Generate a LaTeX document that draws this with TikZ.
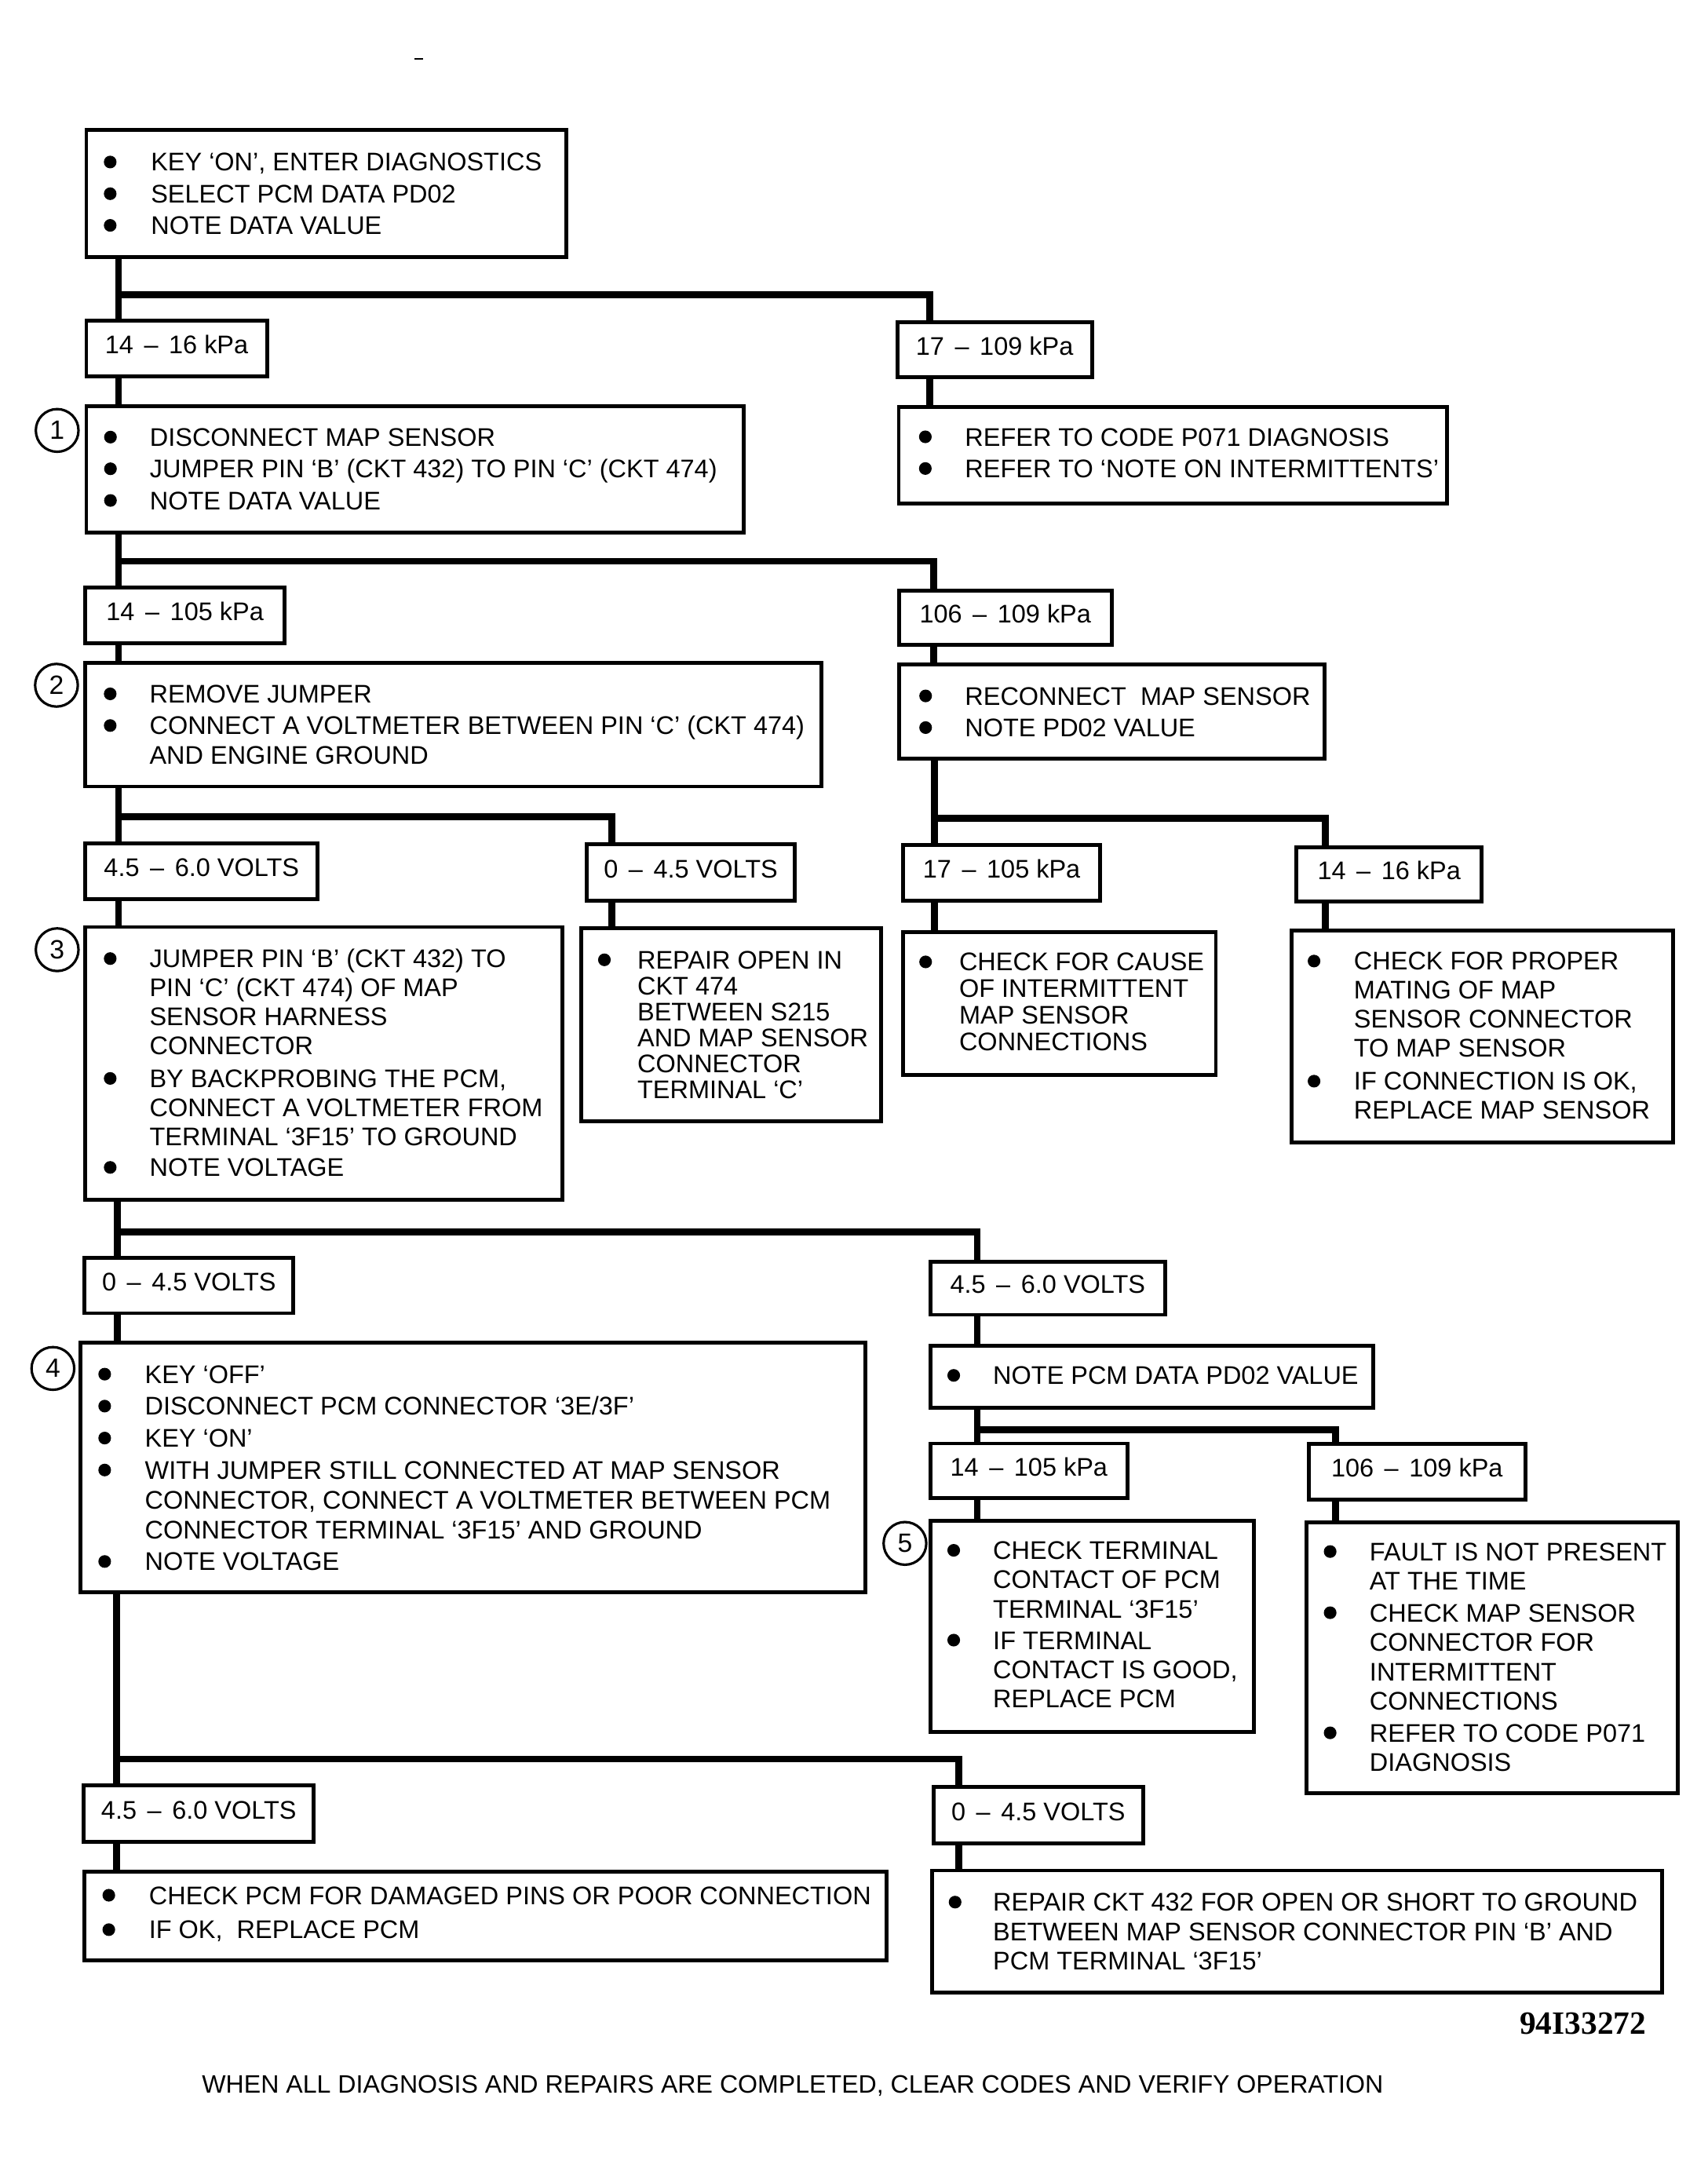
\documentclass[tikz,border=0pt]{standalone}
\usepackage{fontspec}
\setmainfont{Liberation Sans}
\newfontfamily\codefont{Liberation Serif}
\usetikzlibrary{fit}
\newlength\bw
\newcommand\bul{\raisebox{0.98pt}{\tikz\fill (0,0) circle[radius=2.3pt];}}
\newcommand\bi{\makebox[\bw][l]{\bul}}
\newcommand\bsep{\\[0.8pt]}
\newcommand\tlist[3]{{\setlength\bw{#1}\fontsize{9.25pt}{#2}\selectfont\begin{tabular}[t]{@{}l@{}l@{}}#3\end{tabular}}}
\newcommand\lblfont{\fontsize{9.25pt}{10.7pt}\selectfont}
\newcommand\lt[1]{\raisebox{-3.9pt}{#1}}
\newcommand\dd{\hspace{1.3pt} – \hspace{1.3pt}}
\tikzset{
 bx/.style={draw, line width=1.4pt, inner sep=0pt, outer sep=0pt},
 lbl/.style={draw, line width=1.4pt, inner sep=0pt, outer sep=0pt, font=\lblfont},
 txt/.style={anchor=base west, inner sep=0pt, outer sep=0pt},
 conn/.style={line width=2.5pt, line join=miter},
 num/.style={draw, circle, line width=0.9pt, minimum size=15.5pt, inner sep=0pt, font=\fontsize{9.6pt}{10.7pt}\selectfont},
}
\begin{document}
\begin{tikzpicture}[x=0.5pt,y=-0.5pt]
\useasboundingbox (0,0) rectangle (1240,1566);
\draw[line width=0.6pt] (301,43) -- (307,43);
% boxes and range labels
\node[bx, fit={(62.7,94.5)(411,186.5)}] (A) {};
\node[lbl, fit={(62.7,233)(193.8,273.4)}] (L1) {\lt{14\dd16 kPa}};
\node[lbl, fit={(651.5,234)(792.7,274)}] (R1) {\lt{17\dd109 kPa}};
\node[bx, fit={(62.7,295)(540,386.5)}] (B1) {};
\node[bx, fit={(652.5,295.5)(1050.5,365.5)}] (BR1) {};
\node[lbl, fit={(62,426.3)(206.6,466.8)}] (L2) {\lt{14\dd105 kPa}};
\node[lbl, fit={(652.7,428.7)(807,468.3)}] (R2) {\lt{106\dd109 kPa}};
\node[bx, fit={(62,481)(596.5,571)}] (B2) {};
\node[bx, fit={(652.7,482.3)(961.6,550.9)}] (BR2) {};
\node[lbl, fit={(62,612.5)(230.6,652.8)}] (L3) {\lt{4.5\dd6.0 VOLTS}};
\node[lbl, fit={(426,613)(577,653.7)}] (R3) {\lt{0\dd4.5 VOLTS}};
\node[lbl, fit={(655.6,613.4)(798.8,653.7)}] (L3R) {\lt{17\dd105 kPa}};
\node[lbl, fit={(941.2,615)(1075.8,654.3)}] (R3R) {\lt{14\dd16 kPa}};
\node[bx, fit={(62,673)(408.5,871)}] (B3) {};
\node[bx, fit={(422,674)(639.5,814)}] (BR3) {};
\node[bx, fit={(655.6,676.6)(882.7,780.3)}] (B3R) {};
\node[bx, fit={(937.5,675.8)(1214.5,829.5)}] (BR3R) {};
\node[lbl, fit={(61.4,913)(213,953.4)}] (L4) {\lt{0\dd4.5 VOLTS}};
\node[lbl, fit={(675.5,916)(845.8,954.5)}] (R4) {\lt{4.5\dd6.0 VOLTS}};
\node[bx, fit={(58.5,975)(628.5,1156)}] (B4) {};
\node[bx, fit={(675.5,977)(997,1022)}] (BR4) {};
\node[lbl, fit={(675.5,1048)(818.5,1087.8)}] (L5) {\lt{14\dd105 kPa}};
\node[lbl, fit={(950,1048.5)(1107.5,1088.5)}] (R5) {\lt{106\dd109 kPa}};
\node[bx, fit={(675.5,1104)(910.5,1257.5)}] (B5) {};
\node[bx, fit={(948.5,1105)(1218,1302)}] (BR5) {};
\node[lbl, fit={(60.9,1296)(227.7,1337.2)}] (L6) {\lt{4.5\dd6.0 VOLTS}};
\node[lbl, fit={(677.6,1297.5)(830,1338.5)}] (R6) {\lt{0\dd4.5 VOLTS}};
\node[bx, fit={(61.5,1359)(643.5,1423)}] (B6) {};
\node[bx, fit={(676.5,1358)(1206.5,1446.5)}] (BR6) {};
% step numbers
\node[num] (n1) at (41.5,312.5) {1};
\node[num] (n2) at (41,497.5) {2};
\node[num] (n3) at (41.5,689.5) {3};
\node[num] (n4) at (38.4,993.5) {4};
\node[num] (n5) at (657,1120.5) {5};
% texts
\node[txt] (At) at (75.4,124.2) {\tlist{17.1pt}{10.7pt}{\bi & KEY ‘ON’, ENTER DIAGNOSTICS\bsep \bi & SELECT PCM DATA PD02\bsep \bi & NOTE DATA VALUE}};
\node[txt] (B1t) at (75.6,323.9) {\tlist{16.6pt}{10.7pt}{\bi & DISCONNECT MAP SENSOR\bsep \bi & JUMPER PIN ‘B’ (CKT 432) TO PIN ‘C’ (CKT 474)\bsep \bi & NOTE DATA VALUE}};
\node[txt] (BR1t) at (667.2,323.7) {\tlist{16.7pt}{10.7pt}{\bi & REFER TO CODE P071 DIAGNOSIS\bsep \bi & REFER TO ‘NOTE ON INTERMITTENTS’}};
\node[txt] (B2t) at (75.4,510.3) {\tlist{16.6pt}{10.7pt}{\bi & REMOVE JUMPER\bsep \bi & CONNECT A VOLTMETER BETWEEN PIN ‘C’ (CKT 474)\\ & AND ENGINE GROUND}};
\node[txt] (BR2t) at (667.4,511.8) {\tlist{16.6pt}{10.7pt}{\bi & RECONNECT\ \ MAP SENSOR\bsep \bi & NOTE PD02 VALUE}};
\node[txt] (B3t) at (75.4,702.5) {\tlist{16.6pt}{10.5pt}{\bi & JUMPER PIN ‘B’ (CKT 432) TO\\ & PIN ‘C’ (CKT 474) OF MAP\\ & SENSOR HARNESS\\ & CONNECTOR\\[1.5pt] \bi & BY BACKPROBING THE PCM,\\ & CONNECT A VOLTMETER FROM\\ & TERMINAL ‘3F15’ TO GROUND\bsep \bi & NOTE VOLTAGE}};
\node[txt] (BR3t) at (434.2,703.4) {\tlist{14.3pt}{9.4pt}{\bi & REPAIR OPEN IN\\ & CKT 474\\ & BETWEEN S215\\ & AND MAP SENSOR\\ & CONNECTOR\\ & TERMINAL ‘C’}};
\node[txt] (B3Rt) at (667.4,704.9) {\tlist{14.5pt}{9.6pt}{\bi & CHECK FOR CAUSE\\ & OF INTERMITTENT\\ & MAP SENSOR\\ & CONNECTIONS}};
\node[txt] (BR3Rt) at (949.4,704.3) {\tlist{16.8pt}{10.5pt}{\bi & CHECK FOR PROPER\\ & MATING OF MAP\\ & SENSOR CONNECTOR\\ & TO MAP SENSOR\\[1.6pt] \bi & IF CONNECTION IS OK,\\ & REPLACE MAP SENSOR}};
\node[txt] (B4t) at (71.4,1004.2) {\tlist{16.9pt}{10.8pt}{\bi & KEY ‘OFF’\bsep \bi & DISCONNECT PCM CONNECTOR ‘3E/3F’\bsep \bi & KEY ‘ON’\bsep \bi & WITH JUMPER STILL CONNECTED AT MAP SENSOR\\ & CONNECTOR, CONNECT A VOLTMETER BETWEEN PCM\\ & CONNECTOR TERMINAL ‘3F15’ AND GROUND\bsep \bi & NOTE VOLTAGE}};
\node[txt] (BR4t) at (687.8,1005.1) {\tlist{16.6pt}{10.7pt}{\bi & NOTE PCM DATA PD02 VALUE}};
\node[txt] (B5t) at (687.8,1132.1) {\tlist{16.6pt}{10.6pt}{\bi & CHECK TERMINAL\\ & CONTACT OF PCM\\ & TERMINAL ‘3F15’\bsep \bi & IF TERMINAL\\ & CONTACT IS GOOD,\\ & REPLACE PCM}};
\node[txt] (BR5t) at (961.1,1133) {\tlist{16.65pt}{10.7pt}{\bi & FAULT IS NOT PRESENT\\ & AT THE TIME\bsep \bi & CHECK MAP SENSOR\\ & CONNECTOR FOR\\ & INTERMITTENT\\ & CONNECTIONS\bsep \bi & REFER TO CODE P071\\ & DIAGNOSIS}};
\node[txt] (B6t) at (74.4,1382.5) {\tlist{16.9pt}{10.7pt}{\bi & CHECK PCM FOR DAMAGED PINS OR POOR CONNECTION\\[1.8pt] \bi & IF OK,\ \ REPLACE PCM}};
\node[txt] (BR6t) at (688.8,1387.5) {\tlist{16.1pt}{10.7pt}{\bi & REPAIR CKT 432 FOR OPEN OR SHORT TO GROUND\\ & BETWEEN MAP SENSOR CONNECTOR PIN ‘B’ AND\\ & PCM TERMINAL ‘3F15’}};
\node[anchor=base west, inner sep=0pt, font={\codefont\bfseries\fontsize{11.8pt}{12pt}\selectfont}] (code) at (1103,1476.6) {94I33272};
\node[anchor=base west, inner sep=0pt, font=\fontsize{9.15pt}{10.7pt}\selectfont] (foot) at (146.3,1519.5) {WHEN ALL DIAGNOSIS AND REPAIRS ARE COMPLETED, CLEAR CODES AND VERIFY OPERATION};
% junctions
\coordinate (b1) at (86,214);     \coordinate (b1r) at (675,214);
\coordinate (b2) at (86,407.5);   \coordinate (b2r) at (678,407.5);
\coordinate (b3) at (86,593);     \coordinate (b3r) at (444,593);
\coordinate (b3R) at (678.5,594); \coordinate (b3Rr) at (962,594);
\coordinate (b4) at (85,894.5);   \coordinate (b4r) at (709.5,894.5);
\coordinate (b5) at (709.5,1038); \coordinate (b5r) at (969.5,1038);
\coordinate (b6) at (84.5,1277);  \coordinate (b6r) at (696,1277);
% connectors
\draw[conn] (A.south -| b1) -- (L1.north -| b1);
\draw[conn] (b1) -- (b1r) -- (R1.north -| b1r);
\draw[conn] (L1.south -| b1) -- (B1.north -| b1);
\draw[conn] (R1.south -| b1r) -- (BR1.north -| b1r);
\draw[conn] (B1.south -| b2) -- (L2.north -| b2);
\draw[conn] (b2) -- (b2r) -- (R2.north -| b2r);
\draw[conn] (L2.south -| b2) -- (B2.north -| b2);
\draw[conn] (R2.south -| b2r) -- (BR2.north -| b2r);
\draw[conn] (B2.south -| b3) -- (L3.north -| b3);
\draw[conn] (b3) -- (b3r) -- (R3.north -| b3r);
\draw[conn] (L3.south -| b3) -- (B3.north -| b3);
\draw[conn] (R3.south -| b3r) -- (BR3.north -| b3r);
\draw[conn] (BR2.south -| b3R) -- (L3R.north -| b3R);
\draw[conn] (b3R) -- (b3Rr) -- (R3R.north -| b3Rr);
\draw[conn] (L3R.south -| b3R) -- (B3R.north -| b3R);
\draw[conn] (R3R.south -| b3Rr) -- (BR3R.north -| b3Rr);
\draw[conn] (B3.south -| b4) -- (L4.north -| b4);
\draw[conn] (b4) -- (b4r) -- (R4.north -| b4r);
\draw[conn] (L4.south -| b4) -- (B4.north -| b4);
\draw[conn] (R4.south -| b4r) -- (BR4.north -| b4r);
\draw[conn] (BR4.south -| b5) -- (L5.north -| b5);
\draw[conn] (b5) -- (b5r) -- (R5.north -| b5r);
\draw[conn] (L5.south -| b5) -- (B5.north -| b5);
\draw[conn] (R5.south -| b5r) -- (BR5.north -| b5r);
\draw[conn] (B4.south -| b6) -- (L6.north -| b6);
\draw[conn] (b6) -- (b6r) -- (R6.north -| b6r);
\draw[conn] (L6.south -| b6) -- (B6.north -| b6);
\draw[conn] (R6.south -| b6r) -- (BR6.north -| b6r);
\end{tikzpicture}
\end{document}
